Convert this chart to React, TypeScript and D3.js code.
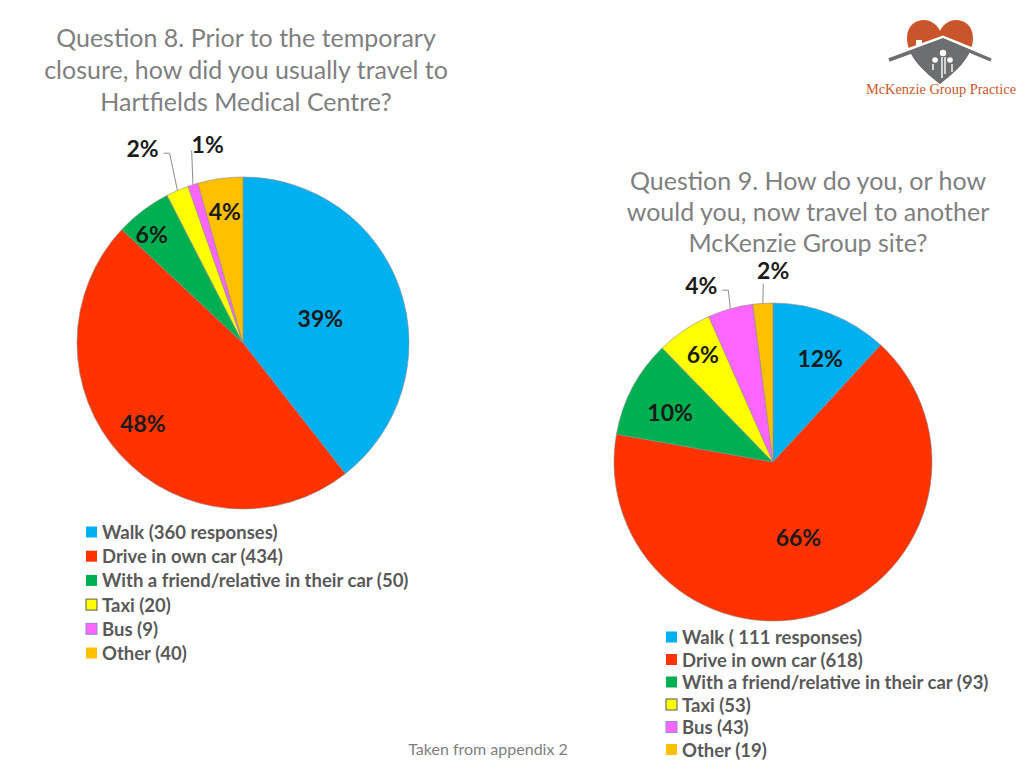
import React from "react";
import * as d3 from "d3";

const categories = ["Walk", "Drive in own car", "With a friend/relative in their car", "Taxi", "Bus", "Other"];
const colors = ["#00B0F0", "#FF3300", "#00B050", "#FFFF00", "#FF66FF", "#FFC000"];
const q8Values = [360, 434, 50, 20, 9, 40];
const q9Values = [111, 618, 93, 53, 43, 19];
const q8Legend = ["Walk (360 responses)", "Drive in own car (434)", "With a friend/relative in their car (50)", "Taxi (20)", "Bus (9)", "Other (40)"];
const q9Legend = ["Walk ( 111 responses)", "Drive in own car (618)", "With a friend/relative in their car (93)", "Taxi (53)", "Bus (43)", "Other (19)"];
const q8Title = ["Question 8. Prior to the temporary", "closure, how did you usually travel to", "Hartfields Medical Centre?"];
const q9Title = ["Question 9. How do you, or how", "would you, now travel to another", "McKenzie Group site?"];
const q8Pct = ["39%", "48%", "6%", "2%", "1%", "4%"];
const q9Pct = ["12%", "66%", "10%", "6%", "4%", "2%"];

// label placement: radius factor and angle shift (deg), leader flag
const q8LabelPos = [
  { k: 0.49, da: 1, leader: false },
  { k: 0.77, da: 4, leader: false },
  { k: 0.855, da: -3, leader: false },
  { k: 1.32, da: -4, leader: true, side: 1 },
  { k: 1.22, da: 7.5, leader: true, side: -1 },
  { k: 0.8, da: 0, leader: false },
];
const q9LabelPos = [
  { k: 0.72, da: 3, leader: false },
  { k: 0.5, da: 0, leader: false },
  { k: 0.72, da: -2, leader: false },
  { k: 0.81, da: 1, leader: false },
  { k: 1.2, da: -6.5, leader: true, side: 1 },
  { k: 1.21, da: 3.7, leader: true, side: 0 },
];

const FONT = "Lato, 'Open Sans', sans-serif";

function Pie({ cx, cy, r, values, pct, labelPos }) {
  const pie = d3.pie<number>().sort(null).value((d) => d)(values);
  const arc = d3.arc<any>().innerRadius(0).outerRadius(r);
  const polar = (angDeg: number, rad: number) => {
    const a = (angDeg * Math.PI) / 180;
    return [rad * Math.sin(a), -rad * Math.cos(a)];
  };
  return (
    <g transform={`translate(${cx},${cy})`}>
      {pie.map((p, i) => (
        <path key={i} d={arc(p) as string} fill={colors[i]} stroke="#8c8c8c" strokeWidth={0.6} />
      ))}
      {pie.map((p, i) => {
        const mid = ((p.startAngle + p.endAngle) / 2) * 180 / Math.PI;
        const lp = labelPos[i];
        const [lx, ly] = polar(mid + lp.da, r * lp.k);
        let leader = null;
        if (lp.leader) {
          const [ax, ay] = polar(mid, r);
          let pts;
          if (lp.side === 1) {
            const sx = lx + 21, sy = ly + 5;
            pts = [[sx, sy], [sx + 6, sy], [ax, ay]];
          } else if (lp.side === -1) {
            const sx = lx - 16, sy = ly + 7;
            pts = [[sx, sy], [ax, ay]];
          } else {
            pts = [[lx - 10, ly + 14], [ax, ay]];
          }
          leader = (
            <polyline points={pts.map((q) => q.join(",")).join(" ")} fill="none" stroke="#8c8c8c" strokeWidth={1} />
          );
        }
        return (
          <g key={"l" + i}>
            {leader}
            <text x={lx} y={ly} textAnchor="middle" dominantBaseline="central" fontFamily={FONT} fontWeight={700} fontSize={23} fill="#1a1a1a">
              {pct[i]}
            </text>
          </g>
        );
      })}
    </g>
  );
}

function Legend({ x, y, step, items }) {
  return (
    <g>
      {items.map((t, i) => (
        <g key={i} transform={`translate(${x},${y + i * step})`}>
          <rect x={0} y={-5.5} width={11} height={11} fill={colors[i]} stroke={i === 3 ? "#595959" : i === 4 ? "#8c8cd0" : "none"} strokeWidth={1} />
          <text x={16} y={0} dominantBaseline="central" fontFamily={FONT} fontWeight={700} fontSize={18.5} fill="#595959">
            {t}
          </text>
        </g>
      ))}
    </g>
  );
}

function Title({ cx, y, step, lines }) {
  return (
    <g>
      {lines.map((t, i) => (
        <text key={i} x={cx} y={y + i * step} textAnchor="middle" dominantBaseline="central" fontFamily={FONT} fontSize={25} fill="#7f7f7f">
          {t}
        </text>
      ))}
    </g>
  );
}

function Logo() {
  const heart = "M940,84 C925,72 907,57 907,38 C907,26 915,20 924,20 C932,20 938,26 940,31 C942,26 948,20 956,20 C965,20 973,26 973,38 C973,57 955,72 940,84 Z";
  return (
    <g>
      <defs>
        <clipPath id="heartClip">
          <path d={heart} />
        </clipPath>
      </defs>
      <path d={heart} fill="#C8562A" />
      <rect x={916} y={40} width={6} height={12} fill="#fff" />
      <g clipPath="url(#heartClip)">
        <polygon points="880,60 943,39 1000,60 1000,100 880,100" fill="#6d6e70" />
      </g>
      <polyline points="888,57 943,37 992,57" fill="none" stroke="#fff" strokeWidth={3} />
      <polyline points="889,60 943,40 991,60" fill="none" stroke="#6d6e70" strokeWidth={3.5} />
      <circle cx={943} cy={53} r={3.2} fill="#fff" />
      <circle cx={935} cy={60} r={2.8} fill="#fff" />
      <circle cx={950} cy={60} r={2.8} fill="#fff" />
      <path d="M942,57 L942,78 M945,57 L945,74 M933,64 L933,70 M952,64 L952,72" stroke="#fff" strokeWidth={1.4} />
      <text x={941} y={89} textAnchor="middle" dominantBaseline="central" fontFamily="'Liberation Serif', 'DejaVu Serif', serif" fontSize={14.4} fill="#C8562A">
        McKenzie Group Practice
      </text>
    </g>
  );
}

export default function App() {
  return (
    <svg width={1024} height={768} style={{ position: "absolute", left: 0, top: 0, background: "#fff" }}>
      <rect width={1024} height={768} fill="#fff" />
      <Title cx={246} y={37} step={32} lines={q8Title} />
      <Title cx={808} y={180} step={31} lines={q9Title} />
      <Logo />
      <Pie cx={243} cy={343} r={166} values={q8Values} pct={q8Pct} labelPos={q8LabelPos} />
      <Pie cx={773} cy={462} r={159} values={q9Values} pct={q9Pct} labelPos={q9LabelPos} />
      <Legend x={86} y={532} step={24.2} items={q8Legend} />
      <Legend x={666} y={637} step={22.5} items={q9Legend} />
      <text x={488} y={748} textAnchor="middle" dominantBaseline="central" fontFamily={FONT} fontSize={16} fill="#7f7f7f">
        Taken from appendix 2
      </text>
    </svg>
  );
}
